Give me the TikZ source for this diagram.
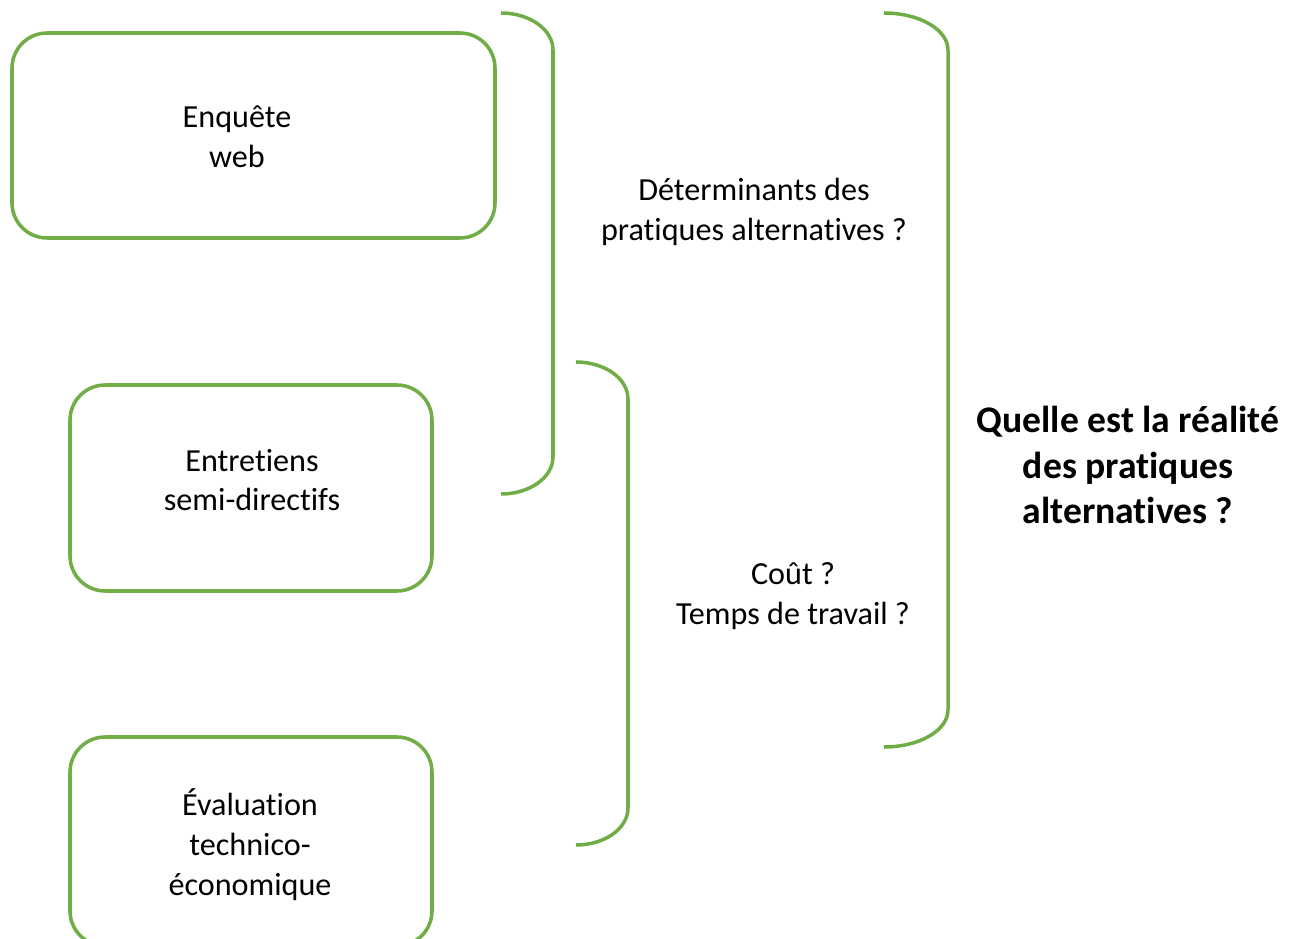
\documentclass[tikz,border=0pt]{standalone}
\usepackage{fontspec}
\setmainfont{Carlito}[Ligatures=NoCommon]
\definecolor{leaf}{RGB}{112,173,71}

\begin{document}
\begin{tikzpicture}[x=0.02cm,y=-0.02cm,
	box/.style={draw=leaf,line width=2pt,rounded corners=20pt},
	brace/.style={draw=leaf,line width=2pt},
	txt/.style={align=center,font=\fontsize{18.3}{22.7}\selectfont},
	ask/.style={align=center,font=\fontsize{21.4}{26}\selectfont\bfseries}]

	\useasboundingbox (0,0) rectangle (1296,939);

	% method boxes
	\draw[box] (12,33) rectangle (495,238);
	\draw[box] (70,385) rectangle (432,591);
	\draw[box] (70,737) rectangle (432,946);

	\node[txt] (web) at (237,137) {Enquête\\web};
	\node[txt] (interviews) at (252,480) {Entretiens\\semi-directifs};
	\node[txt] (evaluation) at (250,845) {Évaluation\\technico-\\économique};

	% braces
	\coordinate (b1top) at (501,13);
	\coordinate (b2top) at (576,362);
	\coordinate (b3top) at (884,13);

	\draw[brace] (b1top) arc[start angle=-90,end angle=0,x radius=52,y radius=37]
		-- ++(0,407) arc[start angle=0,end angle=90,x radius=52,y radius=37];
	\draw[brace] (b2top) arc[start angle=-90,end angle=0,x radius=52,y radius=37]
		-- ++(0,409) arc[start angle=0,end angle=90,x radius=52,y radius=37];
	\draw[brace] (b3top) arc[start angle=-90,end angle=0,x radius=64,y radius=37]
		-- ++(0,660) arc[start angle=0,end angle=90,x radius=64,y radius=37];

	% questions
	\node[txt] (drivers) at (754,212) {Déterminants des\\pratiques alternatives ?};
	\node[txt] (cost) at (793,596) {Coût ?\\Temps de travail ?};
	\node[ask] (reality) at (1128,465) {Quelle est la réalité\\des pratiques\\alternatives ?};

\end{tikzpicture}
\end{document}
